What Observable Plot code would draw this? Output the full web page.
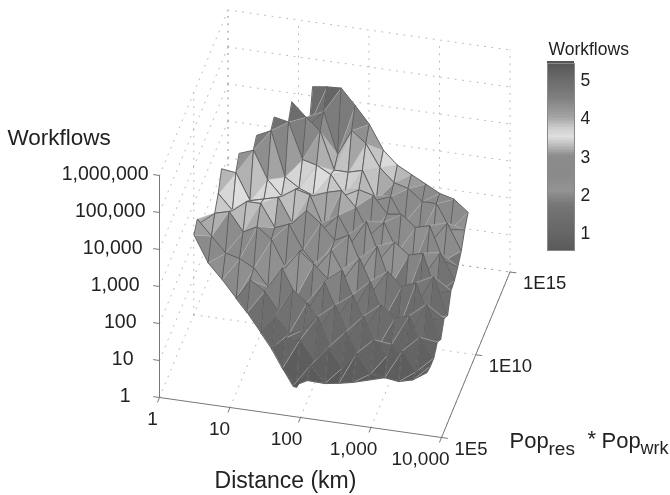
<!DOCTYPE html>
<html><head><meta charset="utf-8">
<script src="https://cdn.jsdelivr.net/npm/d3@7"></script>
<script src="https://cdn.jsdelivr.net/npm/@observablehq/plot@0.6"></script>
<style>
html,body{margin:0;padding:0;background:#fff}
#c{position:relative;width:670px;height:495px;overflow:hidden}
#c svg{position:absolute;filter:blur(.35px)}
</style></head><body><div id="c"></div>
<script>
const _ = null;
// log10 distance (km) of each surface column, log10 Pop*Pop of each row
const distances = [.2,.4,.6,.8,1,1.2,1.4,1.6,1.8,2,2.2,2.4,2.6,2.8,3,3.2,3.4,3.6];
const pops = [6,6.5,7,7.5,8,8.5,9,9.5,10,10.5,11,11.5,12,12.5,13];
// log10 workflows, one array per distance column, across pops
const d02=[_,_,_,_,3.1,3.3,3.0,_,_,_,_,_,_,_,_];
const d04=[_,_,_,_,2.4,2.9,3.3,3.6,4.05,_,_,_,_,_,_];
const d06=[_,_,_,_,2.0,2.5,3.4,3.2,4.0,4.3,_,_,_,_,_];
const d08=[_,_,_,_,1.55,2.4,2.9,3.5,3.3,4.44,4.62,_,_,_,_];
const d10=[_,_,_,1.45,2.1,2.2,3.1,3.5,3.4,3.7,4.8,4.94,_,_,_];
const d12=[_,_,_,.95,1.85,1.75,2.8,2.9,3.5,3.3,3.6,4.86,5.18,_,_];
const d14=[_,_,.8,1.45,1.35,2.3,2.1,3.05,2.85,3.55,3.35,3.9,4.82,4.4,5.2];
const d16=[_,.55,1.15,1.05,2.0,1.6,2.6,2.4,3.25,3.45,3.2,3.8,4.5,4.8,5.25];
const d18=[.35,.1,1.15,1.2,1.7,1.4,2.3,2.0,2.95,2.6,3.35,3.6,3.5,3.7,5.27];
const d20=[.55,.75,.65,1.6,1.15,2.1,1.95,2.5,2.55,3.0,3.45,3.1,3.5,4.4,4.85];
const d22=[_,.3,1.05,.75,1.75,1.25,2.25,1.85,2.75,2.35,3.05,3.3,3.6,4.1,4.4];
const d24=[_,.36,.55,1.3,.95,1.85,1.35,2.4,1.9,2.95,2.35,3.2,2.85,3.5,3.75];
const d26=[_,.44,1.0,.7,1.55,1.05,2.05,1.6,2.55,2.0,2.75,2.75,3.0,3.15,3.4];
const d28=[_,.55,.5,1.2,.75,1.7,1.1,2.15,1.55,2.5,2.0,2.8,2.35,3.05,3.2];
const d30=[_,_,.45,.85,.9,1.4,.85,1.8,1.2,2.2,1.6,2.5,2.0,2.75,3.0];
const d32=[_,_,.4,1.0,.55,1.5,.9,1.95,1.25,2.3,1.55,2.6,2.0,2.75,2.8];
const d34=[_,_,.5,.5,1.2,.65,1.65,1.0,1.95,1.25,2.15,1.7,2.5,2.1,2.7];
const d36=[_,_,.75,.7,.7,.9,.75,1.1,.95,1.4,1.45,1.6,1.8,2.15,2.4];
const surface=[d02,d04,d06,d08,d10,d12,d14,d16,d18,d20,d22,d24,d26,d28,d30,d32,d34,d36];

const distTicks=[0,1,2,3,4], distLabels=["1","10","100","1,000","10,000"];
const popTicks=[5,10,15], popLabels=["1E5","1E10","1E15"];
const zTicks=[0,1,2,3,4,5,6], zLabels=["1","10","100","1,000","10,000","100,000","1,000,000"];
const barTicks=[1,2,3,4,5];
const colorDomain=[.5,1,1.7,2.1,2.5,3,3.2,3.5,3.7,4,4.5,5,5.44];
const colorRange=["#5a5a5a","#666666","#757575","#939393","#8a8a8a","#8c8c8c","#b0b0b0","#dedede","#d0d0d0","#a5a5a5","#808080","#6a6a6a","#555555"];
const color={type:"linear",domain:colorDomain,range:colorRange};

// the view of the cube
const px=(d,p)=>159+70.5*d+6.85*(p-5);
const py=(d,p,z)=>397+10*d-16.55*(p-5)-37*z;

const facets=[]; let id=0;
function poly(pts,level,edge,op,w){id++;for(const [i,j] of pts)facets.push({id,level,edge,op,w,
  x:px(distances[i],pops[j]),y:py(distances[i],pops[j],surface[i][j])});}
for(let j=pops.length-2;j>=0;j--)for(let i=0;i<distances.length-1;i++){
  const a=[i,j],b=[i+1,j],c=[i+1,j+1],e=[i,j+1];
  const has=([u,v])=>surface[u][v]!==null;
  const lv=ps=>d3.mean(ps,([u,v])=>surface[u][v]);
  const all=[a,b,c,e].filter(has);
  if(!has(c)||!has(e)||all.length<3)continue;   // stepped far edge, closed near edge
  if(all.length===4){poly([a,b,c],lv([a,b,c]),3.2,1,.45);poly([a,c,e],lv([a,c,e]),3.2,1,.45);}
  else poly(all,lv(all),3.2,1,.45);
  poly(all,lv(all),5.44,0,.85);
}

const gridD=distTicks.slice(1);
const grid=[];let g=0;
function gl(p0,p1){g++;grid.push({g,x:px(p0[0],p0[1]),y:py(...p0)},{g,x:px(p1[0],p1[1]),y:py(...p1)});}
for(const d of gridD){gl([d,5,0],[d,15,0]);gl([d,15,0],[d,15,6]);}
gl([0,15,0],[0,15,6]);
for(const p of popTicks.slice(1)){gl([0,p,0],[4,p,0]);gl([0,p,0],[0,p,6]);}
for(const z of zTicks.slice(0)){gl([0,5,z],[0,15,z]);gl([0,15,z],[4,15,z]);}

const F={x:[0,670],y:[0,495]};
const txt=(s,x,y,size,anchor="start")=>Plot.text([s],{x:()=>x,y:()=>y,text:d=>d,fontSize:size,textAnchor:anchor,fill:"#222"});
const main=Plot.plot({width:670,height:495,margin:0,
  x:{domain:F.x,range:F.x,axis:null},y:{domain:F.y,range:F.y,axis:null},color,opacity:{domain:[0,1],range:[0,1]},
  style:{fontFamily:"'Liberation Sans',Arial,sans-serif",background:"transparent"},
  marks:[
    Plot.line(grid,{x:"x",y:"y",z:"g",stroke:"#8a8a8a",strokeWidth:1,strokeDasharray:"1 6.4",strokeOpacity:.6}),
    // axes
    Plot.link([0],{x1:()=>px(0,5),y1:()=>py(0,5,0),x2:()=>px(0,5),y2:()=>py(0,5,6),stroke:"#777"}),
    Plot.link([0],{x1:()=>px(0,5),y1:()=>py(0,5,0),x2:()=>px(4,5),y2:()=>py(4,5,0),stroke:"#777"}),
    Plot.link([0],{x1:()=>px(4,5),y1:()=>py(4,5,0),x2:()=>px(4,15),y2:()=>py(4,15,0),stroke:"#777"}),
    Plot.link(zTicks,{x1:z=>px(0,5),y1:z=>py(0,5,z),x2:z=>px(-.09,5),y2:z=>py(-.09,5,z),stroke:"#777"}),
    Plot.link(distTicks,{x1:d=>px(d,5),y1:d=>py(d,5,0),x2:d=>px(d,4.7),y2:d=>py(d,4.7,0),stroke:"#777"}),
    Plot.link(popTicks,{x1:p=>px(4,p),y1:p=>py(4,p,0),x2:p=>px(4.09,p),y2:p=>py(4.09,p,0),stroke:"#777"}),
    // surface
    Plot.line(facets,{x:"x",y:"y",z:"id",fill:"level",stroke:"edge",fillOpacity:"op",strokeWidth:"w",curve:"linear-closed"}),
    // tick labels
    Plot.text(zTicks,{x:z=>px(0,5)-29+3*z,y:z=>py(0,5,z)-2,text:(z,i)=>zLabels[i],textAnchor:"end",fontSize:19.5,fill:"#222"}),
    Plot.text(distTicks,{x:d=>px(d,5)-7-3.5*d,y:d=>py(d,5,0)+21,text:(d,i)=>distLabels[i],fontSize:19,fill:"#222"}),
    Plot.text(popTicks,{x:p=>px(4,p)+13,y:p=>py(4,p,0)+11.5,text:(p,i)=>popLabels[i],textAnchor:"start",fontSize:18.5,fill:"#222"}),
    txt("Workflows",7,137,22.5),
    txt("Distance (km)",285,480,23,"middle"),
    txt("Pop",509,440,22),txt("res",548,448,19),txt("*",587,438,22),txt("Pop",601,440,22),txt("wrk",640,448,18),
    txt("Workflows",548,49,17.5)
  ]});
main.style.left="0";main.style.top="0";
document.getElementById("c").append(main);

const levels=d3.range(.56,5.44,.04);
const bar=Plot.plot({width:120,height:230,marginTop:23,marginBottom:20,marginLeft:17,marginRight:76,
  x:{domain:[0,1],axis:null},y:{domain:[.56,5.44],ticks:barTicks,axis:"right",tickSize:0,tickPadding:6,tickFormat:d=>d,label:null,grid:false},color,
  style:{fontFamily:"'Liberation Sans',Arial,sans-serif",fontSize:"17.5px",color:"#222",background:"transparent"},
  marks:[
    Plot.rect(levels,{x1:()=>0,x2:()=>1,y1:l=>l,y2:l=>l+.04,fill:l=>l,shapeRendering:"crispEdges"}),
    Plot.frame({stroke:"#888"})
  ]});
bar.style.left="530px";bar.style.top="40px";
document.getElementById("c").append(bar);
</script></body></html>
